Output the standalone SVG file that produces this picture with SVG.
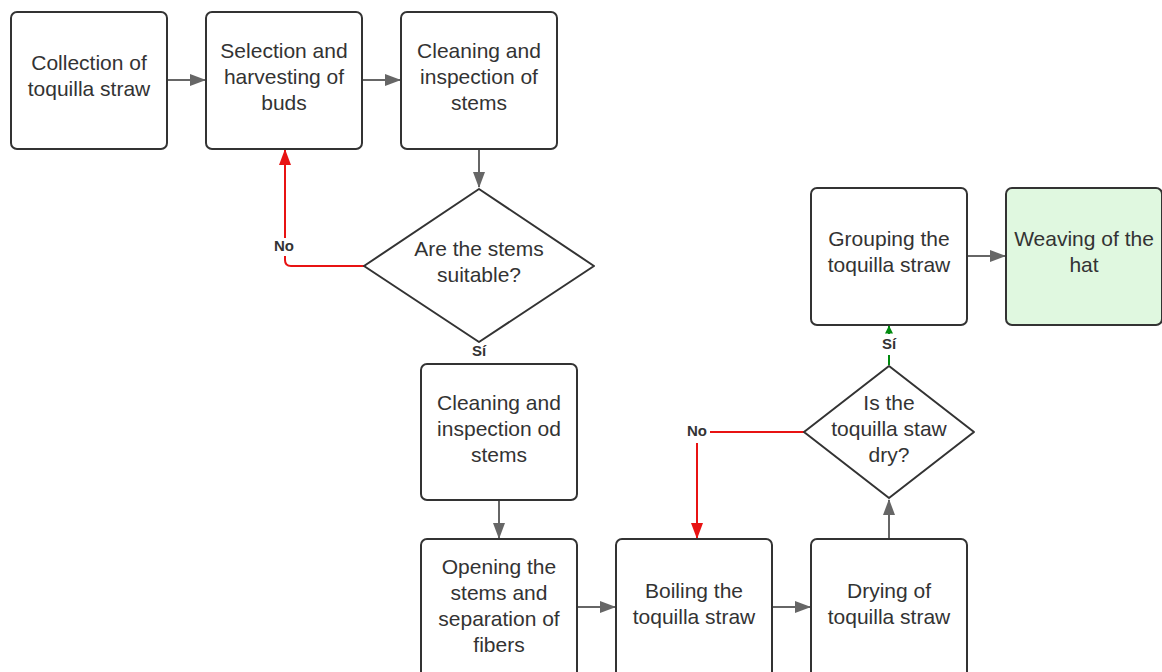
<svg xmlns="http://www.w3.org/2000/svg" width="1162" height="672" viewBox="0 0 1162 672">
<defs>
<marker id="ag" viewBox="0 0 16 12" refX="15" refY="6" markerWidth="16" markerHeight="12" markerUnits="userSpaceOnUse" orient="auto"><path d="M0,0 L16,6 L0,12 z" fill="#666"/></marker>
<marker id="ar" viewBox="0 0 16 12" refX="15" refY="6" markerWidth="16" markerHeight="12" markerUnits="userSpaceOnUse" orient="auto"><path d="M0,0 L16,6 L0,12 z" fill="#e81313"/></marker>
<marker id="agr" viewBox="0 0 8 8" refX="7.5" refY="4" markerWidth="8" markerHeight="8" markerUnits="userSpaceOnUse" orient="auto"><path d="M0,0 L8,4 L0,8 z" fill="#008a0e"/></marker>
</defs>
<style>
.b{fill:#fff;stroke:#333;stroke-width:2}
.g{fill:#e0f8e0;stroke:#333;stroke-width:2}
.t{font-family:"Liberation Sans",Arial,sans-serif;font-size:21px;fill:#333;text-anchor:middle}
.l{font-family:"Liberation Sans",Arial,sans-serif;font-size:15px;font-weight:bold;fill:#333;text-anchor:middle}
.lb{fill:#fff}
.c{fill:none;stroke:#666;stroke-width:2;marker-end:url(#ag)}
.r{fill:none;stroke:#e81313;stroke-width:2;marker-end:url(#ar)}
.rn{fill:none;stroke:#e81313;stroke-width:2}
.gn{fill:none;stroke:#008a0e;stroke-width:2}
</style>
<rect width="1162" height="672" fill="#fff"/>
<g id="connectors">
<path class="c" d="M167,80 H205"/>
<path class="c" d="M362,80 H400"/>
<path class="c" d="M479,149 V187"/>
<path class="r" d="M364,266 H291 Q285,266 285,260 V150"/>
<path class="c" d="M499,500 V538"/>
<path class="c" d="M577,607 H615"/>
<path class="c" d="M772,607 H810"/>
<path class="c" d="M889,539 V500"/>
<path class="rn" d="M804,432 H710"/>
<path class="r" d="M697,443 V538"/>
<path class="gn" d="M889,365 V355"/>
<path class="gn" d="M889,334 V326" marker-end="url(#agr)"/>
<path class="c" d="M967,256 H1005"/>
<rect class="lb" x="272" y="238" width="25" height="18"/>
<text class="l" x="284" y="251">No</text>
<text class="l" x="479" y="356">Sí</text>
<text class="l" x="697" y="436">No</text>
<text class="l" x="889" y="349">Sí</text>
</g>
<g id="n1"><rect class="b" x="11" y="12" width="156" height="137" rx="6"/><text class="t" x="89" y="70">Collection of</text><text class="t" x="89" y="96">toquilla straw</text></g>
<g id="n2"><rect class="b" x="206" y="12" width="156" height="137" rx="6"/><text class="t" x="284" y="58">Selection and</text><text class="t" x="284" y="84">harvesting of</text><text class="t" x="284" y="110">buds</text></g>
<g id="n3"><rect class="b" x="401" y="12" width="156" height="137" rx="6"/><text class="t" x="479" y="58">Cleaning and</text><text class="t" x="479" y="84">inspection of</text><text class="t" x="479" y="110">stems</text></g>
<g id="d1"><path class="b" d="M479,189 L594,266 L479,342 L364,266 Z" stroke-linejoin="round"/><text class="t" x="479" y="256">Are the stems</text><text class="t" x="479" y="282">suitable?</text></g>
<g id="n4"><rect class="b" x="421" y="364" width="156" height="136" rx="6"/><text class="t" x="499" y="410">Cleaning and</text><text class="t" x="499" y="436">inspection od</text><text class="t" x="499" y="462">stems</text></g>
<g id="n5"><rect class="b" x="421" y="539" width="156" height="140" rx="6"/><text class="t" x="499" y="574">Opening the</text><text class="t" x="499" y="600">stems and</text><text class="t" x="499" y="626">separation of</text><text class="t" x="499" y="652">fibers</text></g>
<g id="n6"><rect class="b" x="616" y="539" width="156" height="140" rx="6"/><text class="t" x="694" y="598">Boiling the</text><text class="t" x="694" y="624">toquilla straw</text></g>
<g id="n7"><rect class="b" x="811" y="539" width="156" height="140" rx="6"/><text class="t" x="889" y="598">Drying of</text><text class="t" x="889" y="624">toquilla straw</text></g>
<g id="d2"><path class="b" d="M889,366 L974,432 L889,498 L804,432 Z" stroke-linejoin="round"/><text class="t" x="889" y="410">Is the</text><text class="t" x="889" y="436">toquilla staw</text><text class="t" x="889" y="462">dry?</text></g>
<g id="n8"><rect class="b" x="811" y="188" width="156" height="137" rx="6"/><text class="t" x="889" y="246">Grouping the</text><text class="t" x="889" y="272">toquilla straw</text></g>
<g id="n9"><rect class="g" x="1006" y="188" width="156" height="137" rx="6"/><text class="t" x="1084" y="246">Weaving of the</text><text class="t" x="1084" y="272">hat</text></g>
</svg>
